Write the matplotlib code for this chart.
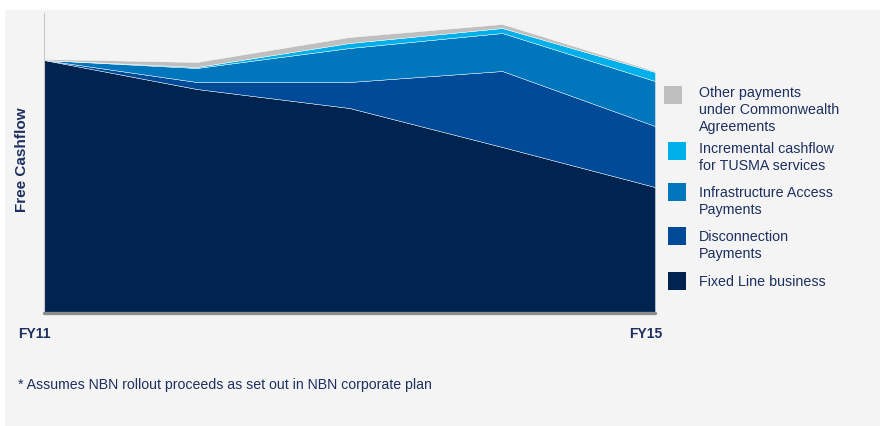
import matplotlib.pyplot as plt
from matplotlib.patches import Rectangle

plt.rcParams['font.family'] = ['Liberation Sans', 'DejaVu Sans']

years = ["FY11", "FY12", "FY13", "FY14", "FY15"]
fixed_line = [253, 224, 205, 166, 126]
disconnection = [0, 7, 26, 76, 61]
infrastructure = [0, 14, 34, 38, 45]
tusma = [0, 1, 5, 5, 9]
other = [1, 5, 6, 4, 1]

series = [fixed_line, disconnection, infrastructure, tusma, other]
colors = ["#00234f", "#004a97", "#0077bd", "#00b0eb", "#bfbfbf"]
labels = ["Fixed Line business", "Disconnection\nPayments",
          "Infrastructure Access\nPayments",
          "Incremental cashflow\nfor TUSMA services",
          "Other payments\nunder Commonwealth\nAgreements"]

W, H = 882, 426
navy = "#1c2f5e"

fig = plt.figure(figsize=(W / 100, H / 100), dpi=100)
fig.patch.set_facecolor("white")
fig.add_artist(Rectangle((5 / W, 0), 875 / W, 1 - 10 / H,
                         transform=fig.transFigure, facecolor="#f4f4f4",
                         edgecolor="none", zorder=0))

ax = fig.add_axes([44 / W, 1 - 313 / H, (655 - 44) / W, 300 / H])
ax.set_facecolor("none")
x = list(range(len(years)))
ax.stackplot(x, *series, colors=colors, edgecolor="#ffffff", linewidth=0.3)
ax.set_xlim(0, len(years) - 1)
ax.set_ylim(0, 300)
ax.set_xticks([])
ax.set_yticks([])
for s in ["top", "right"]:
    ax.spines[s].set_visible(False)
ax.spines["left"].set_color("#c8c8c8")
ax.spines["left"].set_linewidth(0.8)
ax.spines["bottom"].set_color("#8c8c8c")
ax.spines["bottom"].set_linewidth(2.4)
ax.spines["bottom"].set_capstyle("round")

def fx(px):
    return px / W

def fy(py):
    return 1 - py / H

fig.text(fx(18), fy(334), years[0], fontsize=10, fontweight="bold",
         color=navy, va="center", ha="left")
fig.text(fx(662), fy(334), years[-1], fontsize=10, fontweight="bold",
         color=navy, va="center", ha="right")
fig.text(fx(22), fy(160), "Free Cashflow", fontsize=11, fontweight="bold",
         color=navy, rotation=90, va="center", ha="center")
fig.text(fx(18), fy(385), "* Assumes NBN rollout proceeds as set out in NBN corporate plan",
         fontsize=10.2, color=navy, va="center", ha="left")

# legend, top entry first: (patch x, patch top y, first text line y)
legend_rows = [(664, 86, 93), (668, 142, 149), (668, 183, 193),
               (668, 227, 237), (668, 272, 282)]
for (px, py, ty), color, label in zip(legend_rows, colors[::-1], labels[::-1]):
    fig.add_artist(Rectangle((fx(px), fy(py + 18)), 18 / W, 18 / H,
                             transform=fig.transFigure, facecolor=color,
                             edgecolor="none"))
    for i, line in enumerate(label.split("\n")):
        fig.text(fx(699), fy(ty + 17 * i), line, fontsize=10.3, color=navy,
                 va="center", ha="left")

fig.savefig("out.png", dpi=100)
